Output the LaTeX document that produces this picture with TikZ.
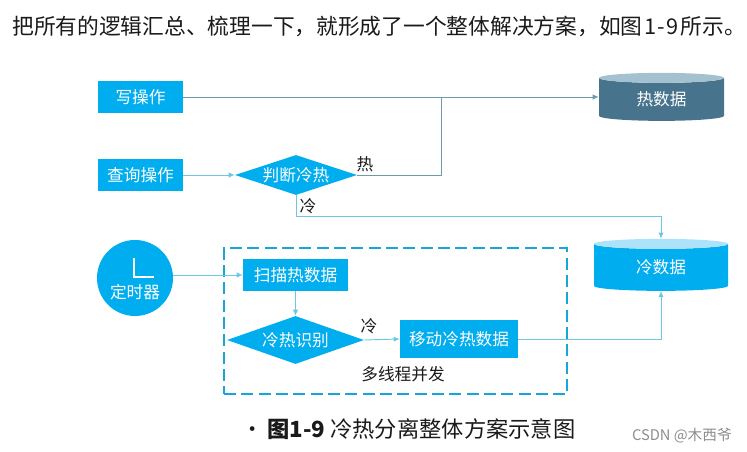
\documentclass[tikz,border=0pt]{standalone}
\usepackage{fontspec}
\setmainfont{Noto Sans CJK SC}
\usetikzlibrary{shapes.geometric,arrows.meta}
\definecolor{cblue}{HTML}{00ADEF}
\definecolor{hotc}{HTML}{47748C}
\definecolor{hottop}{HTML}{A3C1CF}
\definecolor{coldtop}{HTML}{ADE3FA}
\definecolor{lineh}{HTML}{6F9AAD}
\definecolor{linec}{HTML}{6CC6E6}
\definecolor{dashc}{HTML}{18A5DC}
\definecolor{txt}{HTML}{1A1A1A}
\tikzset{
  x=0.75pt,y=-0.75pt,
  lbl/.style={inner sep=0pt,font=\fontsize{12.5pt}{14pt}\selectfont},
  bluebox/.style={lbl,fill=cblue,text=white,minimum height=24pt},
  decide/.style={lbl,diamond,fill=cblue,text=white,aspect=3},
  note/.style={lbl,text=txt},
  db/.style={lbl,cylinder,shape border rotate=90,text=white,cylinder uses custom fill},
  wire/.style={line width=0.7pt,color=linec},
  wireh/.style={line width=0.7pt,color=lineh},
  tip/.style={-{Latex[length=4.5pt,width=4pt]}},
}
\begin{document}
\begin{tikzpicture}
\useasboundingbox (0,0) rectangle (747,452);
\node[inner sep=0pt,anchor=west,text=txt,font=\fontsize{16.3pt}{18pt}\selectfont] (head) at (12,26) {把所有的逻辑汇总、梳理一下，就形成了一个整体解决方案，如图\kern1.2pt 1\kern1.2pt-\kern1.2pt9\kern1.2pt 所示。};
% dashed frame
\node[draw=dashc,line width=1.5pt,dash pattern=on 9pt off 4pt,minimum width=257.5pt,minimum height=109.5pt,inner sep=0pt] (frame) at (395.5,321.5) {};
% nodes
\node[bluebox,minimum width=63.75pt] (write) at (140.5,97) {写操作};
\node[bluebox,minimum width=63.75pt] (query) at (140.5,175) {查询操作};
\node[decide,minimum width=91.5pt,minimum height=30pt] (judge) at (296,175) {判断冷热};
\node[db,minimum width=93.75pt,minimum height=36pt,aspect=0.2,cylinder body fill=hotc,cylinder end fill=hottop] (hot) at (661.5,99.5) {\raisebox{-3.5pt}{热数据}};
\node[db,minimum width=100.5pt,minimum height=39pt,aspect=0.2,cylinder body fill=cblue,cylinder end fill=coldtop] (cold) at (661,267.5) {\raisebox{-3pt}{冷数据}};
\node[circle,fill=cblue,minimum size=57pt,inner sep=0pt] (timer) at (135,278) {};
\node[lbl,text=white] (timerlbl) at (135,292) {定时器};
\coordinate (handtop) at (134,258);
\coordinate (handmid) at (134,277);
\coordinate (handend) at (154,277);
\draw[white,line width=1.5pt] (handtop) -- (handmid) -- (handend);
\node[bluebox,minimum width=78.75pt] (scan) at (295.5,275) {扫描热数据};
\node[decide,minimum width=102.75pt,minimum height=36pt] (ident) at (295.5,340) {冷热识别};
\node[bluebox,minimum width=88.5pt,minimum height=28.5pt] (move) at (459,339) {移动冷热数据};
% labels
\node[note] (lhot) at (365,164) {热};
\node[note] (lcold1) at (308,206) {冷};
\node[note] (lcold2) at (369,326) {冷};
\node[note] (multi) at (403,374) {多线程并发};
% connectors
\draw[wireh,tip] (write.east) -- (hot.west |- write.east);
\draw[wire,tip] (query.east) -- (judge.west);
\coordinate (hotbend) at (441.5,175);
\draw[wireh] (judge.east) -- (hotbend) -- (hotbend |- write.east);
\coordinate (coldbend) at (296,216.5);
\draw[wire,tip] (judge.south) -- (coldbend) -- (cold.north |- coldbend) -- (cold.north);
\draw[wire,tip] (timer.east |- scan.west) -- (scan.west);
\draw[wire,tip] (scan.south) -- (ident.north);
\draw[wire,tip] (ident.east) -- (move.west);
\draw[wire,tip] (move.east) -- (cold.south |- move.east) -- (cold.south);
% caption
\node[inner sep=0pt,text=txt,anchor=west,font=\fontsize{16.7pt}{18pt}\selectfont] (cap) at (241,429) {•\kern3pt\textbf{图1-9} 冷热分离整体方案示意图};
\node[inner sep=0pt,text=black!45,anchor=east,font=\fontsize{11pt}{13pt}\selectfont] (mark) at (732,436) {CSDN @木西爷};
\end{tikzpicture}
\end{document}
